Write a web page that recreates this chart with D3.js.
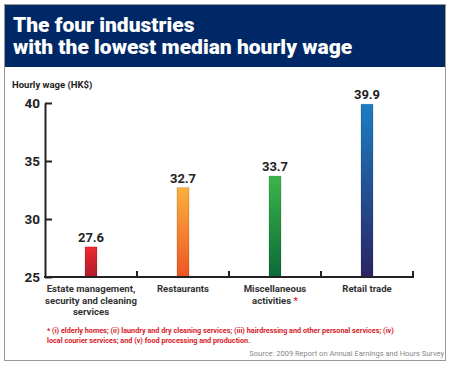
<!DOCTYPE html>
<html>
<head>
<meta charset="utf-8">
<script src="https://cdn.jsdelivr.net/npm/d3@7"></script>
<style>
  html, body { margin: 0; padding: 0; background: #fff; }
  svg { display: block; font-family: Roboto, "DejaVu Sans", sans-serif; }
</style>
</head>
<body>
<svg id="chart" width="450" height="365"></svg>
<script>
  // Median hourly wage by industry (HK$), 2009.
  const CATEGORIES = ['Estate management, security and cleaning services', 'Restaurants', 'Miscellaneous activities', 'Retail trade'];
  const CATEGORY_LINES = [
    ['Estate management,', 'security and cleaning', 'services'],
    ['Restaurants'],
    ['Miscellaneous', 'activities'],
    ['Retail trade']
  ];
  const WAGES = [27.6, 32.7, 33.7, 39.9];
  const Y_TICKS = [25, 30, 35, 40];
  // top / bottom colours of each bar's gradient
  const BAR_COLORS = [
    ['#ec2a2d', '#b11a30'],
    ['#fbb03b', '#ee5523'],
    ['#3bb54a', '#0b6a38'],
    ['#1b7dc3', '#2a2464']
  ];
  const TITLE = ['The four industries', 'with the lowest median hourly wage'];
  const FOOTNOTE = [
    '* (i) elderly homes; (ii) laundry and dry cleaning services; (iii) hairdressing and other personal services; (iv)',
    'local courier services; and (v) food processing and production.'
  ];
  const SOURCE = 'Source: 2009 Report on Annual Earnings and Hours Survey';

  const svg = d3.select('#chart');

  // frame + header
  svg.append('rect')
    .attr('x', 4.5).attr('y', 4.5).attr('width', 441).attr('height', 356)
    .attr('fill', '#fff').attr('stroke', '#9a9a9a').attr('stroke-width', 1);
  svg.append('rect')
    .attr('x', 5).attr('y', 5).attr('width', 440).attr('height', 62)
    .attr('fill', '#002866');
  TITLE.forEach((line, i) => {
    svg.append('text')
      .attr('x', 13).attr('y', 32 + i * 22)
      .attr('fill', '#fff')
      .attr('font-size', 21).attr('font-weight', 900)
      .attr('letter-spacing', 0)
      .text(line);
  });

  svg.append('text')
    .attr('x', 12).attr('y', 88)
    .attr('font-size', 9.5).attr('font-weight', 700).attr('fill', '#222')
    .text('Hourly wage (HK$)');

  const x = d3.scaleBand().domain(CATEGORIES).range([45, 413]).padding(0);
  const y = d3.scaleLinear().domain([25, 40]).range([277, 103]);
  const barW = 12;

  // gradients
  const defs = svg.append('defs');
  BAR_COLORS.forEach((c, i) => {
    const g = defs.append('linearGradient')
      .attr('id', 'bar-grad-' + i)
      .attr('x1', 0).attr('y1', 0).attr('x2', 0).attr('y2', 1);
    g.append('stop').attr('offset', '0%').attr('stop-color', c[0]);
    g.append('stop').attr('offset', '100%').attr('stop-color', c[1]);
  });

  // bars
  svg.append('g').selectAll('rect')
    .data(WAGES)
    .join('rect')
    .attr('x', (d, i) => x(CATEGORIES[i]) + x.bandwidth() / 2 - barW / 2)
    .attr('y', d => y(d))
    .attr('width', barW)
    .attr('height', d => y(25) - y(d))
    .attr('fill', (d, i) => `url(#bar-grad-${i})`)
    .attr('stroke', 'rgba(0,0,0,0.25)').attr('stroke-width', 0.6);

  // value labels
  svg.append('g').selectAll('text')
    .data(WAGES)
    .join('text')
    .attr('x', (d, i) => x(CATEGORIES[i]) + x.bandwidth() / 2)
    .attr('y', d => y(d) - 5)
    .attr('text-anchor', 'middle')
    .attr('font-size', 13).attr('font-weight', 700).attr('fill', '#222')
    .text(d => d.toFixed(1));

  // y axis
  const yAxis = svg.append('g')
    .attr('transform', 'translate(45,0)')
    .call(d3.axisLeft(y).tickValues(Y_TICKS).tickSizeInner(-7).tickSizeOuter(0).tickPadding(5));
  yAxis.select('.domain').attr('stroke', '#222').attr('stroke-width', 2);
  yAxis.selectAll('.tick line').attr('stroke', '#222').attr('stroke-width', 2);
  yAxis.selectAll('.tick text')
    .attr('font-size', 13.5).attr('font-weight', 700).attr('fill', '#222')
    .attr('font-family', 'Roboto, sans-serif');

  // x axis: baseline with upward ticks at band boundaries
  const xAxis = svg.append('g');
  xAxis.append('line')
    .attr('x1', 44).attr('x2', x.range()[1] + 1)
    .attr('y1', y(25)).attr('y2', y(25))
    .attr('stroke', '#222').attr('stroke-width', 2);
  xAxis.selectAll('line.tick')
    .data(CATEGORIES)
    .join('line')
    .attr('class', 'tick')
    .attr('x1', d => x(d) + x.bandwidth()).attr('x2', d => x(d) + x.bandwidth())
    .attr('y1', y(25)).attr('y2', y(25) - 6)
    .attr('stroke', '#222').attr('stroke-width', 2);

  // category labels
  CATEGORY_LINES.forEach((lines, i) => {
    const t = svg.append('text')
      .attr('x', x(CATEGORIES[i]) + x.bandwidth() / 2)
      .attr('y', 292)
      .attr('text-anchor', 'middle')
      .attr('font-size', 9.6).attr('font-weight', 700).attr('fill', '#333');
    lines.forEach((line, li) => {
      t.append('tspan')
        .attr('x', x(CATEGORIES[i]) + x.bandwidth() / 2)
        .attr('dy', li === 0 ? 0 : 11.5)
        .text(line);
      if (i === 2 && li === lines.length - 1) {
        t.append('tspan').attr('fill', '#d7191f').text(' *');
      }
    });
  });

  // footnote
  FOOTNOTE.forEach((line, i) => {
    svg.append('text')
      .attr('x', 47).attr('y', 333 + i * 9.5)
      .attr('font-size', 7.25).attr('font-weight', 700).attr('fill', '#d7191f')
      .text(line);
  });

  svg.append('text')
    .attr('x', 444).attr('y', 356)
    .attr('text-anchor', 'end')
    .attr('font-size', 7.5).attr('fill', '#888')
    .text(SOURCE);
</script>
</body>
</html>
